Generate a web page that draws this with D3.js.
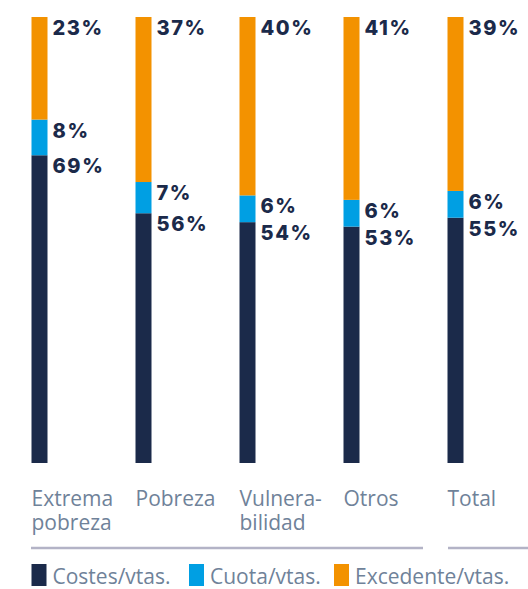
<!DOCTYPE html>
<html>
<head>
<meta charset="utf-8">
<script src="https://cdn.jsdelivr.net/npm/d3@7"></script>
<style>
  body { margin: 0; background: #fff; }
  .value { font-family: Inter, "DejaVu Sans", sans-serif; font-weight: 800; fill: #1b2a4a; letter-spacing: 1.6px; }
  .cat, .legend-text { font-family: "Open Sans", sans-serif; fill: #6f8299; }
</style>
</head>
<body>
<div class="canvas"></div>
<script>
const categories = [['Extrema', 'pobreza'], ['Pobreza'], ['Vulnera-', 'bilidad'], ['Otros'], ['Total']]
const seriesNames = ['Costes/vtas.', 'Cuota/vtas.', 'Excedente/vtas.']
const costes = [69, 56, 54, 53, 55]
const cuota = [8, 7, 6, 6, 6]
const excedente = [23, 37, 40, 41, 39]

const colors = ['#1b2a4a', '#009fe3', '#f39200']

const width = 528
const height = 589

const svg = d3.select('.canvas')
    .append('svg')
    .attr('width', width)
    .attr('height', height)

// scales
const x = d3.scalePoint()
    .domain(d3.range(categories.length))
    .range([39.5, 455.5])

const y = d3.scaleLinear()
    .domain([0, 100])
    .range([463, 17])

const barWidth = 16

// stack data
const rows = categories.map((c, i) => ({ i, costes: costes[i], cuota: cuota[i], excedente: excedente[i] }))
const stack = d3.stack().keys(['costes', 'cuota', 'excedente'])
const layers = stack(rows)

const bars = svg.append('g').attr('class', 'bars')

layers.forEach((layer, k) => {
    bars.append('g')
        .attr('fill', colors[k])
        .selectAll('rect')
        .data(layer).enter()
        .append('rect')
        .attr('x', d => x(d.data.i) - barWidth / 2)
        .attr('y', d => y(d[1]))
        .attr('width', barWidth)
        .attr('height', d => y(d[0]) - y(d[1]))

    // value label at top of each segment
    bars.append('g')
        .selectAll('text')
        .data(layer).enter()
        .append('text')
        .attr('class', 'value')
        .attr('x', d => x(d.data.i) + barWidth / 2 + 5)
        .attr('y', d => y(d[1]) + 18)
        .style('font-size', '20px')
        .text(d => (d[1] - d[0]) + '%')
})

// category labels
const cats = svg.append('g')
cats.selectAll('text')
    .data(categories).enter()
    .append('text')
    .attr('class', 'cat')
    .attr('x', (d, i) => x(i) - barWidth / 2)
    .attr('y', 506)
    .style('font-size', '21px')
    .each(function (d) {
        d3.select(this).selectAll('tspan')
            .data(d).enter()
            .append('tspan')
            .attr('x', d3.select(this).attr('x'))
            .attr('dy', (t, j) => j === 0 ? 0 : 24)
            .text(t => t)
    })

// separator lines
svg.append('line')
    .attr('x1', 31).attr('x2', 423)
    .attr('y1', 548).attr('y2', 548)
    .attr('stroke', '#b3b3c6').attr('stroke-width', 2.5)

svg.append('line')
    .attr('x1', 448).attr('x2', 528)
    .attr('y1', 548).attr('y2', 548)
    .attr('stroke', '#b3b3c6').attr('stroke-width', 2.5)

// legend
const legendX = [31.5, 189, 334]
const legend = svg.append('g')
seriesNames.forEach((name, k) => {
    legend.append('rect')
        .attr('x', legendX[k])
        .attr('y', 564)
        .attr('width', 15)
        .attr('height', 22)
        .attr('fill', colors[k])
    legend.append('text')
        .attr('class', 'legend-text')
        .attr('x', legendX[k] + 21)
        .attr('y', 584)
        .style('font-size', '21px')
        .text(name)
})
</script>
</body>
</html>
